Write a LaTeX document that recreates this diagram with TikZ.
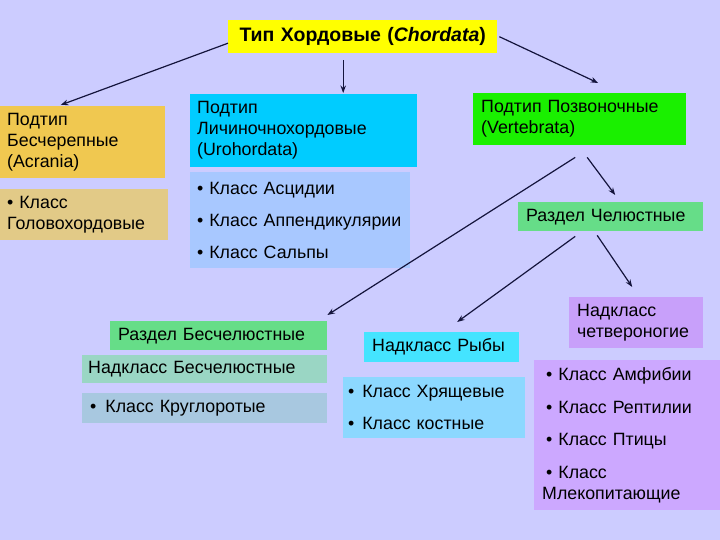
\documentclass[tikz,border=0pt]{standalone}
\usepackage{fontspec}
\setmainfont{Liberation Sans}
\usetikzlibrary{arrows.meta}
\definecolor{bg}{RGB}{204,204,255}
\definecolor{cyel}{RGB}{255,255,0}
\definecolor{cacr}{RGB}{240,200,80}
\definecolor{ccep}{RGB}{226,202,135}
\definecolor{curo}{RGB}{0,204,255}
\definecolor{curoc}{RGB}{168,200,255}
\definecolor{cvert}{RGB}{26,240,0}
\definecolor{cgrn}{RGB}{102,221,136}
\definecolor{ctet}{RGB}{200,160,250}
\definecolor{ctetc}{RGB}{204,168,255}
\definecolor{cfish}{RGB}{68,228,255}
\definecolor{cfishc}{RGB}{140,216,255}
\definecolor{cnb}{RGB}{154,214,196}
\definecolor{ckr}{RGB}{168,200,224}
\definecolor{carr}{RGB}{20,20,60}
\tikzset{
  box/.style={anchor=north west, inner xsep=8pt, inner ysep=0pt, align=left,
    font=\fontsize{17.8}{21}\selectfont, draw=none},
  arr/.style={draw=carr, line width=1.2pt, -{Stealth[length=7.5pt,width=5.5pt]}}
}
\begin{document}
\begin{tikzpicture}[x=1pt,y=-1pt]
\fill[bg] (0,0) rectangle (720,540);
\useasboundingbox (0,0) rectangle (720,540);

\node[box, fill=cyel, minimum width=269pt, minimum height=33pt, text width=265pt, inner xsep=2pt, align=center,
  font=\fontsize{19.5}{22}\selectfont\bfseries] (top) at (228,20) {Тип Хордовые (\textit{Chordata})};

\node[box, fill=cacr, minimum width=165pt, minimum height=72pt, text width=151pt, inner xsep=7pt] (acr) at (0,106)
  {Подтип\\Бесчерепные\\(Acrania)};
\node[box, fill=ccep, minimum width=168pt, minimum height=51pt, text width=154pt, inner xsep=7pt] (cep) at (0,189)
  {• Класс\\Головохордовые};

\node[box, fill=curo, minimum width=227pt, minimum height=73pt, text width=213pt, inner xsep=7pt] (uro) at (190,94)
  {Подтип\\Личиночнохордовые\\(Urohordata)};
\node[box, fill=curoc, minimum width=220pt, minimum height=96pt, text width=206pt, inner xsep=7pt] (uroc) at (190,172)
  {• Класс Асцидии\\[11pt]• Класс Аппендикулярии\\[11pt]• Класс Сальпы};

\node[box, fill=cvert, minimum width=213pt, minimum height=52pt, text width=197pt, inner xsep=8pt] (vert) at (473,93)
  {Подтип Позвоночные\\(Vertebrata)};

\node[box, fill=cgrn, minimum width=185pt, minimum height=29pt, text width=169pt, inner xsep=8pt] (rch) at (518,202)
  {Раздел Челюстные};

\node[box, fill=ctet, minimum width=134pt, minimum height=51pt, text width=118pt, inner xsep=8pt] (tet) at (569,297)
  {Надкласс\\четвероногие};
\node[box, fill=ctetc, minimum width=186pt, minimum height=150pt, text width=170pt, inner xsep=8pt] (tetc) at (534,360)
  {\hspace{4pt}•\hspace{6pt}Класс Амфибии\\[11.5pt]\hspace{4pt}•\hspace{6pt}Класс Рептилии\\[11.5pt]\hspace{4pt}•\hspace{6pt}Класс Птицы\\[11.5pt]\hspace{4pt}•\hspace{6pt}Класс\\Млекопитающие};

\node[box, fill=cfish, minimum width=155pt, minimum height=30pt, text width=139pt, inner xsep=8pt] (fish) at (364,332)
  {Надкласс Рыбы};
\node[box, fill=cfishc, minimum width=182pt, minimum height=61pt, text width=172pt, inner xsep=5pt] (fishc) at (343,377)
  {•\hspace{2pt} Класс Хрящевые\\[11pt]•\hspace{2pt} Класс костные};

\node[box, fill=cgrn, minimum width=217pt, minimum height=29pt, text width=201pt, inner xsep=8pt] (rb) at (110,321)
  {Раздел Бесчелюстные};
\node[box, fill=cnb, minimum width=245pt, minimum height=28pt, text width=233pt, inner xsep=6pt] (nb) at (82,355)
  {Надкласс Бесчелюстные};
\node[box, fill=ckr, minimum width=245pt, minimum height=30pt, text width=229pt, inner xsep=8pt] (kr) at (82,393)
  {•\hspace{9pt}Класс Круглоротые};

\draw[arr] ([yshift=-6.5pt]top.west) -- ([xshift=-22pt,yshift=1pt]acr.north);
\draw[arr] ([xshift=-19.5pt,yshift=-7pt]top.south) -- ([xshift=39.5pt,yshift=1pt]uro.north);
\draw[arr] ([xshift=2pt]top.east) -- ([xshift=18.5pt,yshift=10pt]vert.north);
\draw[arr] ([xshift=-4.5pt,yshift=-12pt]vert.south) -- ([yshift=6pt]rb.north east);
\draw[arr] ([xshift=7.5pt,yshift=-12pt]vert.south) -- ([xshift=4.5pt,yshift=7pt]rch.north);
\draw[arr] ([xshift=-35.5pt,yshift=-5pt]rch.south) -- ([xshift=15.5pt,yshift=10pt]fish.north);
\draw[arr] ([xshift=-13.5pt,yshift=-4pt]rch.south) -- ([xshift=-4pt,yshift=10pt]tet.north);
\end{tikzpicture}
\end{document}
